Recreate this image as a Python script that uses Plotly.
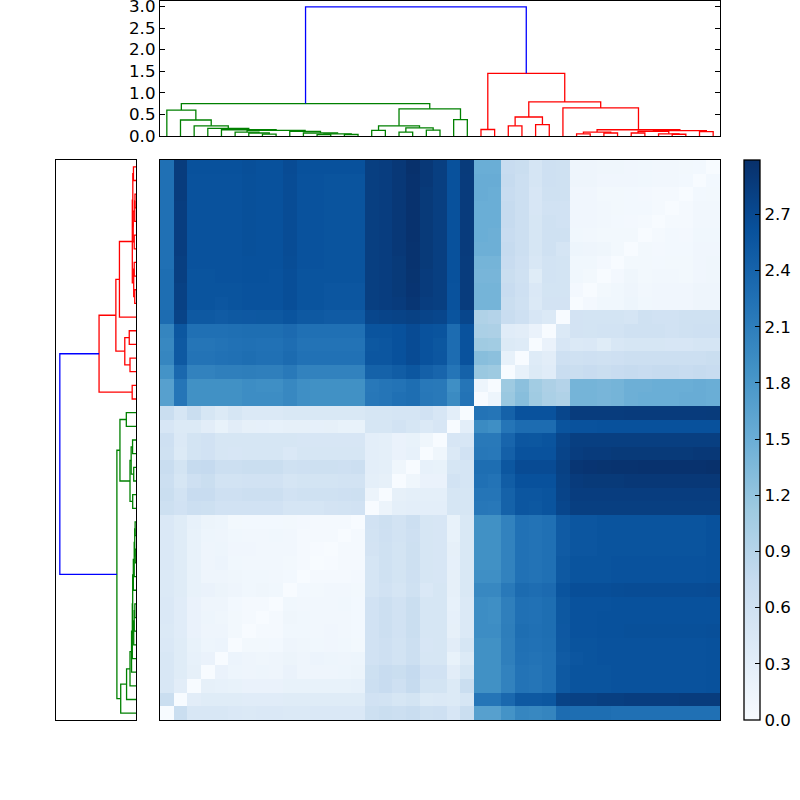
import numpy as np
import plotly.graph_objects as go

# ── DATA ──────────────────────────────────────────────────────
# distance matrix, lower triangle, one row per leaf (row 0 is the bottom one)
dist_rows = [
    [],
    [.68],
    [.47, .32],
    [.46, .36, .26],
    [.46, .36, .24, .20],
    [.44, .36, .22, .15, .16],
    [.42, .34, .20, .14, .13, .08],
    [.44, .34, .20, .15, .12, .08, .05],
    [.44, .34, .20, .14, .13, .07, .05, .04],
    [.42, .36, .22, .20, .17, .14, .10, .12, .10],
    [.42, .36, .22, .14, .13, .12, .10, .10, .09, .07],
    [.44, .36, .22, .14, .16, .10, .09, .09, .09, .08, .05],
    [.44, .36, .22, .14, .15, .11, .11, .09, .09, .09, .05, .02],
    [.44, .36, .22, .15, .14, .10, .09, .09, .10, .09, .05, .04, .04],
    [.44, .36, .24, .17, .15, .08, .07, .07, .07, .08, .06, .05, .04, .04],
    [.64, .58, .66, .64, .58, .58, .58, .58, .58, .52, .52, .52, .55, .56, .58],
    [.68, .56, .72, .72, .62, .62, .66, .66, .66, .58, .60, .60, .60, .62, .64, .17],
    [.66, .50, .62, .68, .56, .56, .58, .58, .58, .52, .54, .54, .54, .56, .56, .28, .26],
    [.70, .54, .74, .76, .66, .66, .68, .68, .68, .60, .62, .64, .64, .62, .66, .30, .29, .12],
    [.60, .40, .54, .58, .50, .48, .50, .50, .50, .44, .50, .50, .50, .50, .50, .30, .28, .20, .24],
    [.62, .42, .54, .58, .50, .50, .50, .50, .50, .50, .48, .48, .48, .48, .48, .30, .28, .20, .22, .12],
    [.48, .40, .40, .32, .22, .32, .26, .25, .24, .26, .26, .25, .26, .22, .22, .50, .50, .56, .50, .42, .48],
    [.68, .50, .68, .50, .40, .50, .42, .42, .42, .45, .45, .45, .45, .45, .45, .50, .50, .52, .52, .58, .48, .30],
    [1.68, 2.20, 1.88, 1.88, 1.88, 1.88, 1.92, 1.92, 1.92, 1.98, 1.90, 1.88, 1.88, 1.88, 1.88, 2.18, 2.20, 2.25, 2.28, 2.18, 2.15, 1.95, 2.22],
    [1.68, 2.20, 1.88, 1.88, 1.88, 1.88, 1.92, 1.90, 1.90, 1.98, 1.90, 1.88, 1.88, 1.88, 1.88, 2.16, 2.20, 2.22, 2.28, 2.16, 2.15, 1.90, 2.20, .15],
    [1.85, 2.35, 2.05, 2.05, 2.08, 2.08, 2.10, 2.08, 2.08, 2.15, 2.05, 2.05, 2.05, 2.05, 2.05, 2.42, 2.42, 2.48, 2.55, 2.44, 2.38, 2.20, 2.42, 1.15, 1.12],
    [2.00, 2.52, 2.22, 2.22, 2.24, 2.26, 2.28, 2.26, 2.26, 2.31, 2.24, 2.24, 2.24, 2.24, 2.24, 2.56, 2.56, 2.62, 2.68, 2.60, 2.56, 2.30, 2.60, 1.28, 1.25, .24],
    [1.98, 2.52, 2.20, 2.20, 2.22, 2.24, 2.26, 2.24, 2.24, 2.29, 2.22, 2.22, 2.22, 2.22, 2.22, 2.54, 2.56, 2.62, 2.68, 2.60, 2.55, 2.30, 2.60, 1.10, 1.08, .40, .38],
    [2.02, 2.55, 2.25, 2.25, 2.25, 2.27, 2.28, 2.28, 2.28, 2.32, 2.26, 2.26, 2.26, 2.26, 2.26, 2.58, 2.58, 2.62, 2.68, 2.60, 2.58, 2.30, 2.60, 1.00, .98, .34, .32, .20],
    [2.30, 2.78, 2.52, 2.52, 2.50, 2.52, 2.53, 2.54, 2.54, 2.58, 2.52, 2.52, 2.50, 2.50, 2.50, 2.74, 2.76, 2.78, 2.80, 2.76, 2.74, 2.58, 2.74, .95, .92, .70, .62, .48, .42],
    [2.28, 2.80, 2.58, 2.58, 2.56, 2.58, 2.60, 2.60, 2.60, 2.65, 2.58, 2.58, 2.56, 2.56, 2.56, 2.82, 2.84, 2.86, 2.92, 2.84, 2.82, 2.60, 2.85, 1.42, 1.42, .68, .60, .42, .55, .55],
    [2.28, 2.80, 2.58, 2.58, 2.58, 2.58, 2.60, 2.60, 2.60, 2.65, 2.58, 2.58, 2.56, 2.56, 2.56, 2.82, 2.84, 2.88, 2.94, 2.86, 2.82, 2.60, 2.85, 1.42, 1.42, .72, .62, .44, .54, .54, .06],
    [2.28, 2.82, 2.58, 2.58, 2.60, 2.60, 2.62, 2.62, 2.60, 2.65, 2.58, 2.58, 2.58, 2.58, 2.58, 2.82, 2.84, 2.88, 2.95, 2.86, 2.82, 2.62, 2.85, 1.40, 1.40, .68, .60, .36, .56, .54, .10, .08],
    [2.26, 2.82, 2.60, 2.60, 2.60, 2.60, 2.62, 2.62, 2.62, 2.66, 2.60, 2.60, 2.58, 2.58, 2.58, 2.82, 2.84, 2.88, 2.96, 2.88, 2.82, 2.62, 2.85, 1.42, 1.42, .72, .62, .46, .56, .54, .10, .10, .06],
    [2.26, 2.84, 2.60, 2.60, 2.60, 2.60, 2.63, 2.62, 2.62, 2.67, 2.60, 2.60, 2.58, 2.58, 2.58, 2.82, 2.84, 2.90, 2.96, 2.88, 2.82, 2.62, 2.86, 1.48, 1.48, .74, .66, .50, .60, .52, .15, .14, .12, .08],
    [2.26, 2.84, 2.60, 2.60, 2.60, 2.60, 2.63, 2.62, 2.62, 2.67, 2.60, 2.60, 2.58, 2.58, 2.58, 2.82, 2.84, 2.90, 2.97, 2.88, 2.82, 2.62, 2.86, 1.50, 1.48, .72, .66, .50, .60, .60, .10, .09, .08, .08, .08],
    [2.26, 2.84, 2.60, 2.60, 2.60, 2.60, 2.63, 2.62, 2.62, 2.67, 2.60, 2.60, 2.58, 2.58, 2.58, 2.82, 2.84, 2.90, 2.97, 2.88, 2.82, 2.62, 2.86, 1.50, 1.50, .74, .66, .50, .60, .58, .11, .11, .09, .07, .06, .05],
    [2.25, 2.84, 2.60, 2.60, 2.60, 2.60, 2.63, 2.62, 2.62, 2.67, 2.60, 2.60, 2.58, 2.58, 2.58, 2.82, 2.84, 2.90, 2.97, 2.88, 2.82, 2.62, 2.86, 1.50, 1.50, .74, .66, .48, .58, .58, .11, .11, .09, .08, .07, .07, .05],
    [2.25, 2.85, 2.60, 2.60, 2.60, 2.60, 2.63, 2.62, 2.62, 2.67, 2.60, 2.60, 2.58, 2.58, 2.58, 2.82, 2.84, 2.90, 2.97, 2.88, 2.82, 2.62, 2.86, 1.52, 1.50, .72, .66, .48, .60, .60, .11, .11, .08, .08, .07, .06, .05, .04],
    [2.25, 2.85, 2.60, 2.60, 2.60, 2.60, 2.63, 2.62, 2.62, 2.67, 2.60, 2.60, 2.58, 2.58, 2.58, 2.82, 2.84, 2.90, 2.97, 2.90, 2.82, 2.62, 2.86, 1.52, 1.52, .75, .66, .52, .62, .60, .13, .13, .11, .11, .11, .10, .09, .09, .07],
    [2.25, 2.85, 2.62, 2.62, 2.62, 2.62, 2.64, 2.62, 2.62, 2.68, 2.62, 2.62, 2.62, 2.62, 2.62, 2.82, 2.84, 2.90, 2.98, 2.90, 2.82, 2.62, 2.87, 1.50, 1.50, .72, .68, .52, .62, .60, .13, .13, .12, .12, .11, .10, .09, .09, .08, .07],
]

# linkage table: left child, right child, merge height (node ids start at 41)
link_left = [7, 6, 5, 11, 13, 44, 10, 9, 43, 4, 3, 2, 1, 0, 15, 17, 19, 56, 55, 21, 59, 54,
             23, 25, 27, 64, 30, 32, 67, 34, 37, 36, 70, 39, 73, 69, 29, 66, 63, 62]
link_right = [8, 41, 42, 12, 14, 45, 46, 47, 48, 49, 50, 51, 52, 53, 16, 18, 20, 57, 58, 22, 60, 61,
              24, 26, 28, 65, 31, 33, 68, 35, 38, 71, 72, 40, 74, 75, 76, 77, 78, 79]
link_height = [.045, .07, .09, .03, .035, .05, .07, .105, .13, .145, .175, .235, .37, .60,
               .13, .09, .135, .19, .235, .38, .63, .75,
               .15, .235, .265, .44, .05, .07, .09, .07, .04, .05, .11, .10, .125, .145, .65, .79, 1.45, 2.99]
link_color = ['#008000'] * 22 + ['#ff0000'] * 17 + ['#0000ff']

tree_ticks = [0.0, 0.5, 1.0, 1.5, 2.0, 2.5, 3.0]
cbar_ticks = [0.0, 0.3, 0.6, 0.9, 1.2, 1.5, 1.8, 2.1, 2.4, 2.7]

# matplotlib "Blues"
blues = [[0, '#f7fbff'], [.125, '#deebf7'], [.25, '#c6dbef'], [.375, '#9ecae1'], [.5, '#6baed6'],
         [.625, '#4292c6'], [.75, '#2171b5'], [.875, '#08519c'], [1, '#08306b']]

# ── BUILD MATRIX + DENDROGRAM SEGMENTS ───────────────────────
n = len(dist_rows)
z = np.zeros((n, n))
for j, row in enumerate(dist_rows):
    for i, v in enumerate(row):
        z[j, i] = v
        z[i, j] = v
centers = np.arange(n) + 0.5

pos = {i: i + 0.5 for i in range(n)}
hgt = {i: 0.0 for i in range(n)}
segments = {}
for k, (a, b, h, c) in enumerate(zip(link_left, link_right, link_height, link_color)):
    xs = [pos[a], pos[a], pos[b], pos[b], None]
    ys = [hgt[a], h, h, hgt[b], None]
    seg = segments.setdefault(c, ([], []))
    seg[0].extend(xs)
    seg[1].extend(ys)
    pos[n + k] = (pos[a] + pos[b]) / 2
    hgt[n + k] = h

# ── FIGURE ───────────────────────────────────────────────────
FONT = dict(family='DejaVu Sans', size=16.67, color='black')
fig = go.Figure()

fig.add_trace(go.Heatmap(
    x=centers, y=centers, z=z, colorscale=blues, zmin=0, zmax=2.99, xaxis='x', yaxis='y',
    colorbar=dict(x=744 / 800, xanchor='left', y=0.45, yanchor='middle', len=0.7, lenmode='fraction',
                  thickness=16, thicknessmode='pixels', xpad=0, ypad=0,
                  outlinecolor='black', outlinewidth=1.3, ticks='inside', ticklen=5, tickwidth=1,
                  tickcolor='black', tickvals=cbar_ticks, tickformat='.1f', tickfont=FONT),
))

for c, (pos_xy, hgt_xy) in segments.items():
    fig.add_trace(go.Scatter(x=pos_xy, y=hgt_xy, mode='lines', line=dict(color=c, width=1.3),
                             xaxis='x2', yaxis='y2', showlegend=False, hoverinfo='skip'))
    fig.add_trace(go.Scatter(x=hgt_xy, y=pos_xy, mode='lines', line=dict(color=c, width=1.3),
                             xaxis='x3', yaxis='y3', showlegend=False, hoverinfo='skip'))

frame = dict(showline=True, linecolor='black', linewidth=1.3, mirror=True,
             showgrid=False, zeroline=False, showticklabels=False, ticks='')

fig.update_layout(
    width=800, height=800, autosize=False,
    margin=dict(l=0, r=0, t=0, b=0, autoexpand=False),
    paper_bgcolor='white', plot_bgcolor='white', showlegend=False, font=FONT,
    xaxis=dict(domain=[160 / 800, 720 / 800], range=[0, n], anchor='y', **frame),
    yaxis=dict(domain=[80 / 800, 640 / 800], range=[0, n], anchor='x', **frame),
    xaxis2=dict(domain=[160 / 800, 720 / 800], range=[0, n], anchor='y2', **frame),
    yaxis2=dict(domain=[664 / 800, 799.2 / 800], range=[0, 3.13], anchor='x2',
                showline=True, linecolor='black', linewidth=1.3, mirror='allticks',
                showgrid=False, zeroline=False, ticks='inside', ticklen=5, tickcolor='black',
                ticklabeloverflow='allow', tickvals=tree_ticks, tickformat='.1f', tickfont=FONT),
    xaxis3=dict(domain=[56 / 800, 136 / 800], range=[3.14, 0], anchor='y3', **frame),
    yaxis3=dict(domain=[80 / 800, 640 / 800], range=[0, n], anchor='x3', **frame),
)

fig.write_html("out.html", config={'displayModeBar': False},
               post_script="document.body.style.margin='0';")
